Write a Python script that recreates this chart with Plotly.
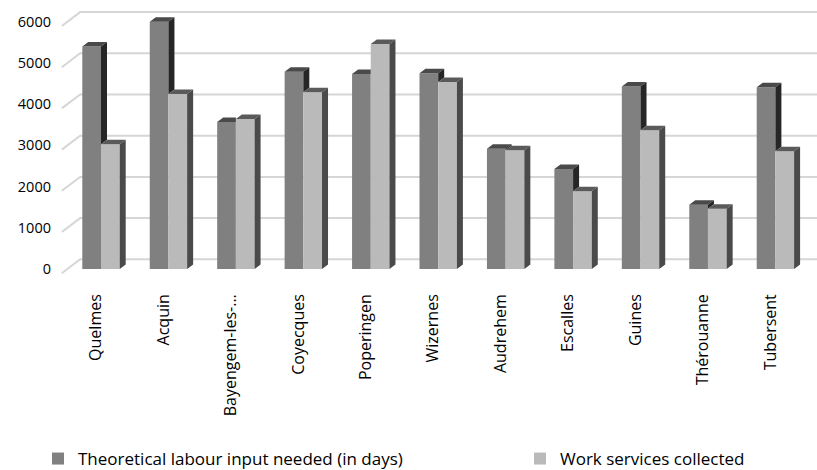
import plotly.graph_objects as go

# ---------------- data ----------------
categories = ["Quelmes", "Acquin", "Bayengem-les-...", "Coyecques", "Poperingen",
              "Wizernes", "Audrehem", "Escalles", "Guines", "Thérouanne", "Tubersent"]
theoretical = [5400, 6000, 3570, 4790, 4730, 4750, 2920, 2430, 4430, 1560, 4410]
collected = [3030, 4250, 3640, 4290, 5460, 4540, 2880, 1890, 3370, 1460, 2860]
series_names = ["Theoretical labour input needed (in days)", "Work services collected"]
y_ticks = [0, 1000, 2000, 3000, 4000, 5000, 6000]

# ---------------- geometry (pixels -> axis units) ----------------
W, H = 817, 470
PL, PR = 55, 817          # plot area left / right (px)
PT, PB = 0, 285           # plot area top / bottom (px)
CAT_PX = 67.44            # px per category
X0_PX = 101               # px of category 0 centre (front plane)
Y0_PX = 269               # px of value 0 (front plane)
PX_PER_VAL = 0.0412       # px per value unit

x_lo = (PL - X0_PX) / CAT_PX
x_hi = (PR - X0_PX) / CAT_PX
y_hi = (Y0_PX - PT) / PX_PER_VAL
y_lo = (Y0_PX - PB) / PX_PER_VAL


def ux(px):
    return px / CAT_PX


def uy(px_up):
    return px_up / PX_PER_VAL


bw = ux(18.7)                     # bar width
ddx, ddy = ux(6.0), uy(4.5)       # bar depth offset
wall_dx, wall_dy = ux(12.9), uy(9.7)
front_dx, front_dy = ux(-5.5), uy(-4.2)

dark_front, dark_top, dark_side = "#808080", "#4a4a4a", "#262626"
light_front, light_top, light_side = "#bababa", "#5a5a5a", "#4a4a4a"

xs = list(range(len(categories)))

fig = go.Figure()

fig.add_trace(go.Bar(x=xs, y=theoretical, name=series_names[0], width=bw, offset=-bw,
                     marker=dict(color=dark_front, line=dict(width=0)), legend="legend"))
fig.add_trace(go.Bar(x=xs, y=collected, name=series_names[1], width=bw, offset=0,
                     marker=dict(color=light_front, line=dict(width=0)), legend="legend2"))


def poly_trace(polys, color):
    px_, py_ = [], []
    for p in polys:
        for (a, b) in p:
            px_.append(a)
            py_.append(b)
        px_.append(p[0][0])
        py_.append(p[0][1])
        px_.append(None)
        py_.append(None)
    return go.Scatter(x=px_, y=py_, mode="lines", fill="toself", fillcolor=color,
                      line=dict(width=0, color=color), showlegend=False,
                      hoverinfo="skip")


d_tops, d_sides, l_tops, l_sides = [], [], [], []
for c, vd, vl in zip(xs, theoretical, collected):
    # dark bar top
    if vl > vd:
        d_tops.append([(c - bw, vd), (c, vd), (c, vd + ddy), (c - bw + ddx, vd + ddy)])
    else:
        d_tops.append([(c - bw, vd), (c, vd), (c + ddx, vd + ddy), (c - bw + ddx, vd + ddy)])
    # dark bar side (visible part above light bar)
    if vd > vl:
        d_sides.append([(c, vl), (c, vd), (c + ddx, vd + ddy), (c + ddx, vl + ddy)])
    # light bar top and side
    l_tops.append([(c, vl), (c + bw, vl), (c + bw + ddx, vl + ddy), (c + ddx, vl + ddy)])
    l_sides.append([(c + bw, 0), (c + bw, vl), (c + bw + ddx, vl + ddy), (c + bw + ddx, ddy)])

fig.add_trace(poly_trace(d_tops, dark_top))
fig.add_trace(poly_trace(d_sides, dark_side))
fig.add_trace(poly_trace(l_tops, light_top))
fig.add_trace(poly_trace(l_sides, light_side))

# back-wall gridlines with the slanted left edge
shapes = []
xl_front = -0.5 + front_dx
xl_back = -0.5 + wall_dx
for v in y_ticks:
    shapes.append(dict(type="path", xref="x", yref="y", layer="below",
                       path=f"M{xl_front},{v + front_dy} L{xl_back},{v + wall_dy} L{x_hi},{v + wall_dy}",
                       line=dict(color="#d6d6d6", width=2)))

font_family = "Open Sans, Noto Sans, DejaVu Sans, sans-serif"
legend_common = dict(orientation="h", xref="container", yref="container",
                     xanchor="left", yanchor="middle", y=1 - 459 / H,
                     font=dict(size=17), bgcolor="rgba(0,0,0,0)")

fig.update_layout(
    width=W, height=H,
    margin=dict(l=PL, r=W - PR, t=PT, b=H - PB, pad=0, autoexpand=False),
    paper_bgcolor="white", plot_bgcolor="white",
    barmode="overlay",
    shapes=shapes,
    font=dict(family=font_family, color="#000000", size=16),
    xaxis=dict(range=[x_lo, x_hi], tickmode="array", tickvals=xs, ticktext=categories,
               tickangle=-90, showgrid=False, zeroline=False, showline=False, ticks="",
               ticklabelshift=-5, ticklabelstandoff=5, tickfont=dict(size=16)),
    yaxis=dict(range=[y_lo, y_hi], tickmode="array", tickvals=y_ticks,
               showgrid=False, zeroline=False, showline=False, ticks="",
               ticklabelstandoff=3, tickfont=dict(size=14.5)),
    legend=dict(x=38 / W, **legend_common),
    legend2=dict(x=520 / W, **legend_common),
    showlegend=True,
)

fig.write_html("out.html")
